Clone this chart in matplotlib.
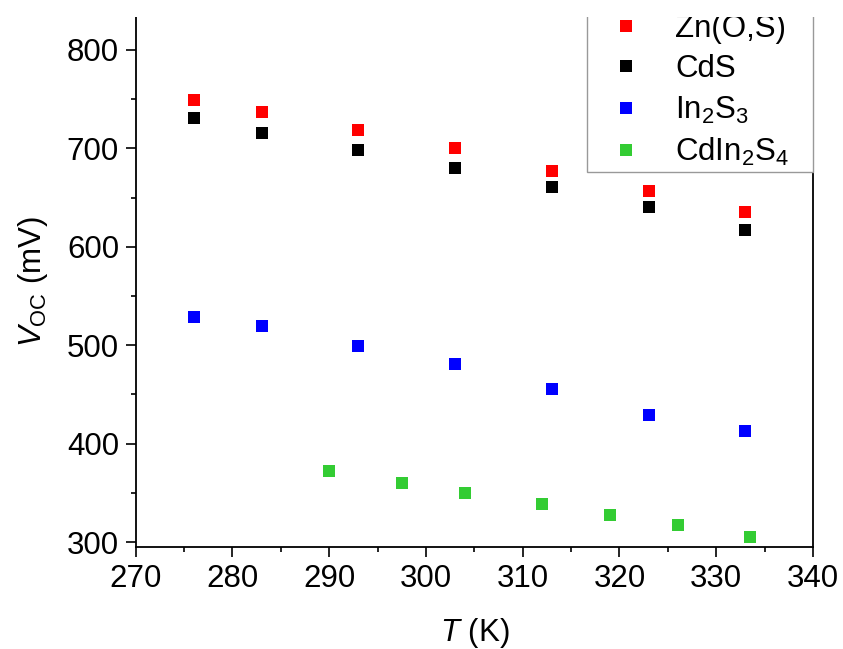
import numpy as np
import matplotlib
matplotlib.use('Agg')
import matplotlib.pyplot as plt
from matplotlib.patches import Rectangle

plt.rcParams['font.family'] = ['Liberation Sans', 'DejaVu Sans']
plt.rcParams['mathtext.fontset'] = 'custom'
plt.rcParams['mathtext.rm'] = 'Liberation Sans'
plt.rcParams['mathtext.it'] = 'Liberation Sans:italic'

# 資料
T_main = [276, 283, 293, 303, 313, 323, 333]
voc_zno = [749, 737, 719, 700, 677, 657, 635]
voc_cds = [731, 716, 698, 680, 661, 640, 617]
voc_in2s3 = [529, 519, 499, 481, 456, 429, 413]

T_cdin = [290, 297.5, 304, 312, 319, 326, 333.5]
voc_cdin = [372, 360, 350, 339, 328, 317, 305]

labels = ['Zn(O,S)', 'CdS', 'In$_2$S$_3$', 'CdIn$_2$S$_4$']
colors = ['#ff0000', '#000000', '#0000ff', '#33cc33']

fs = 22.5

fig = plt.figure(figsize=(8.43, 6.49), dpi=100)
ax = fig.add_axes([0.161, 0.157, 0.8034, 0.817])

series = [(T_main, voc_zno), (T_main, voc_cds), (T_main, voc_in2s3), (T_cdin, voc_cdin)]
for (x, y), lab, c in zip(series, labels, colors):
    ax.plot(x, y, 's', color=c, markersize=8.5, markeredgewidth=0, label=lab)

ax.set_xlim(270, 340)
ax.set_ylim(294.9, 833.5)
ax.set_xticks(np.arange(270, 341, 10))
ax.set_xticks(np.arange(275, 340, 10), minor=True)
ax.set_yticks(np.arange(300, 801, 100))
ax.set_yticks(np.arange(350, 800, 100), minor=True)

ax.spines['top'].set_visible(False)
for s in ['left', 'bottom', 'right']:
    ax.spines[s].set_linewidth(1.3)
ax.tick_params(which='major', direction='out', length=7, width=1.2, labelsize=fs, pad=5)
ax.tick_params(which='minor', direction='out', length=3.5, width=1.2)
ax.tick_params(right=False, top=False)

ax.set_xlabel('$\\it{T}$ (K)', fontsize=fs, labelpad=16)
ax.set_ylabel('$\\it{V}_{\\rm OC}$ (mV)', fontsize=fs, labelpad=12)

# 圖例外框 (上方超出圖外)
frame = Rectangle((0.6663, 0.7075), 0.3337, 0.4, transform=ax.transAxes, clip_on=False,
                  facecolor='white', edgecolor='#999999', linewidth=1.0, zorder=4)
ax.add_patch(frame)

leg = ax.legend(loc='lower right', bbox_to_anchor=(0.9646, 0.715), borderaxespad=0,
                borderpad=0, fontsize=fs, handlelength=1.0, handletextpad=1.06,
                labelspacing=0.33, frameon=False, numpoints=1)
leg.set_zorder(6)

# 上方白邊
fig.patches.append(Rectangle((0, 632 / 649), 1, 1, transform=fig.transFigure,
                             facecolor='white', edgecolor='none', zorder=10))

fig.savefig('out.png', dpi=100)
